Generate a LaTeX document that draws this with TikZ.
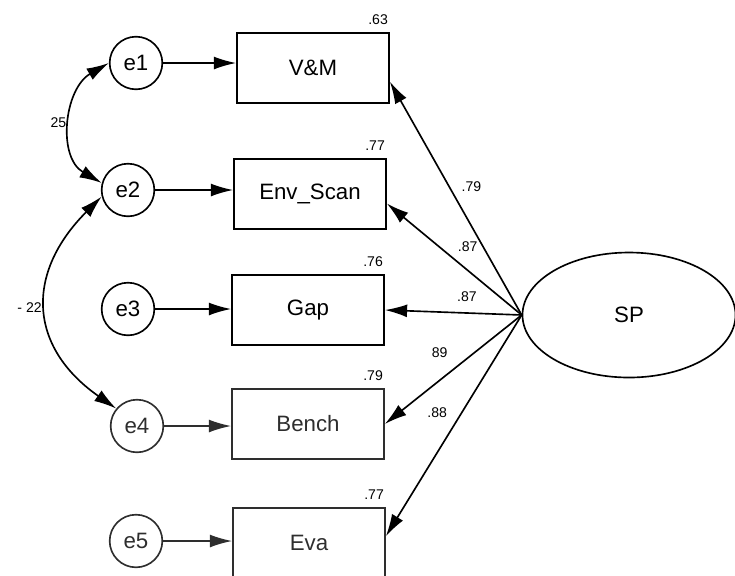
\documentclass[tikz,border=0pt]{standalone}
\usepackage{fontspec}
\setmainfont{Liberation Sans}
\usepackage{tikz}
\usetikzlibrary{shapes.geometric, arrows.meta}

\begin{document}
\begin{tikzpicture}[x=0.03cm, y=-0.03cm, line width=1.4pt,
    >={Latex[length=19pt, width=11pt]},
    obs/.style={draw, rectangle, minimum width=4.56cm, minimum height=2.1cm,
        font=\fontsize{19}{21}\selectfont},
    err/.style={draw, circle, minimum size=1.58cm, inner sep=0pt,
        font=\fontsize{19}{21}\selectfont},
    latent/.style={draw, ellipse, minimum width=6.39cm, minimum height=3.75cm,
        font=\fontsize{19}{21}\selectfont},
    lbl/.style={font=\fontsize{12}{14}\selectfont, inner sep=1pt},
    faded/.style={draw=black!82, text=black!82}]

    \useasboundingbox (0,0) rectangle (735,575);

    % =================================================================
    % 1. BIEN QUAN SAT VA BIEN TIEM AN
    % =================================================================
    \node[obs] (vm)    at (313,68)  {V\&M};
    \node[obs] (env)   at (310,194) {Env\_Scan};
    \node[obs] (gap)   at (308,310) {Gap};
    \node[obs, faded] (bench) at (308,424) {Bench};
    \node[obs, faded] (eva)   at (309,543) {Eva};

    \node[latent] (sp) at (629,315) {SP};

    % =================================================================
    % 2. SAI SO e1..e5 VA MUI TEN VAO HOP
    % =================================================================
    \node[err] (e1) at (136,63)  {e1};
    \node[err] (e2) at (128,190) {e2};
    \node[err] (e3) at (128,309) {e3};
    \node[err, faded] (e4) at (137,426) {e4};
    \node[err, faded] (e5) at (136,541) {e5};

    \draw[->] (e1) -- (e1 -| vm.west);
    \draw[->] (e2) -- (e2 -| env.west);
    \draw[->] (e3) -- (e3 -| gap.west);
    \draw[->, black!82] (e4) -- (e4 -| bench.west);
    \draw[->, black!82] (e5) -- (e5 -| eva.west);

    % =================================================================
    % 3. HIEP PHUONG SAI GIUA CAC SAI SO
    % =================================================================
    \draw[<->] (e1.west) to[out=210, in=150, looseness=1.1] node[lbl, midway, left=3pt] (c12) {25} (e2.165);
    \draw[<->] (e2.194) to[out=225, in=145, looseness=1.3] node[lbl, midway, left=3pt] (c24) {- 22} (e4.140);

    % =================================================================
    % 4. HE SO TAI TU SP
    % =================================================================
    \draw[->] (sp.west) -- (vm.-10)   node[lbl, pos=0.55, right=9pt] (l1) {.79};
    \draw[->] (sp.west) -- (env.-7)   node[lbl, pos=0.4, above=14pt] (l2) {.87};
    \draw[->] (sp.west) -- (gap.east) node[lbl, pos=0.4, above=8pt] (l3) {.87};
    \draw[->] (sp.west) -- (bench.east) node[lbl, pos=0.6, above=18pt] (l4) {89};
    \draw[->] (sp.west) -- (eva.5)    node[lbl, pos=0.44, left=11pt] (l5) {.88};

    % R binh phuong o goc tren phai moi hop
    \node[lbl, anchor=south east, yshift=5pt] (r1) at (vm.north east) {.63};
    \node[lbl, anchor=south east, yshift=5pt] (r2) at (env.north east) {.77};
    \node[lbl, anchor=south east, yshift=5pt] (r3) at (gap.north east) {.76};
    \node[lbl, anchor=south east, yshift=5pt] (r4) at (bench.north east) {.79};
    \node[lbl, anchor=south east, yshift=5pt] (r5) at (eva.north east) {.77};

\end{tikzpicture}
\end{document}
